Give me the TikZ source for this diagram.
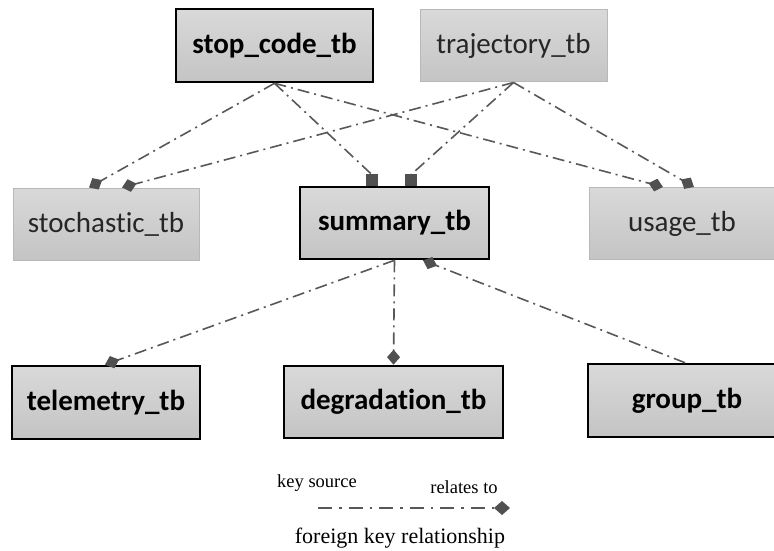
\documentclass[tikz,border=0pt]{standalone}
\usepackage{fontspec}
\setmainfont{Liberation Serif}
\newfontfamily\boxfont[RawFeature={-liga;-dlig}]{Carlito}
\usetikzlibrary{arrows.meta,calc}
\definecolor{linkc}{HTML}{585858}
\definecolor{markc}{HTML}{505050}
\definecolor{fillTop}{HTML}{D9D9D9}
\definecolor{fillBot}{HTML}{C4C4C4}
\definecolor{softedge}{HTML}{B8B8B8}
\definecolor{softtext}{HTML}{262626}

\begin{document}
\begin{tikzpicture}[x=1pt,y=-1pt,
  tbl/.style={rectangle, inner sep=0pt, top color=fillTop, bottom color=fillBot,
    minimum height=72pt},
  keytbl/.style={tbl, draw=black, line width=2.6pt,
    font=\boxfont\bfseries\fontsize{29}{32}\selectfont, text=black},
  plaintbl/.style={tbl, draw=softedge, line width=1pt,
    font=\boxfont\fontsize{29}{32}\selectfont, text=softtext},
  fk/.style={draw=linkc, line width=1.6pt,
    dash pattern=on 12pt off 5pt on 2pt off 5pt},
  fkd/.style={fk, -{Diamond[length=15pt,width=13pt,fill=markc,color=markc,sep=0pt]}},
  sqmark/.style={fill=markc},
  legendtxt/.style={font=\fontsize{18.5}{22}\selectfont, text=black},
]
\useasboundingbox (0,0) rectangle (774,551);

% tables
\node[keytbl, minimum width=197pt, minimum height=73pt] (stop) at (274.5,45.5) {stop\_code\_tb};
\node[plaintbl, minimum width=187pt] (traj) at (513.5,46) {trajectory\_tb};
\node[plaintbl, minimum width=186pt] (stoch) at (106,224) {stochastic\_tb};
\node[keytbl, minimum width=189pt] (summ) at (394.5,223) {summary\_tb};
\node[plaintbl, minimum width=186pt] (usage) at (682,223.5) {usage\_tb};
\node[keytbl, minimum width=188pt, minimum height=73pt] (telem) at (106,402.5) {telemetry\_tb};
\node[keytbl, minimum width=219pt] (degr) at (393.5,402) {degradation\_tb};
\node[keytbl, minimum width=198pt, minimum height=73pt] (group) at (687,400.5) {group\_tb};

% foreign keys from the upper tables
\draw[fkd] (stop.south) -- ([xshift=-17pt]stoch.north);
\draw[fkd] (traj.south) -- ([xshift=16pt]stoch.north);
\draw[fk] (stop.south) -- ([xshift=-22.5pt,yshift=11pt]summ.north);
\draw[fk] (traj.south) -- ([xshift=16.5pt,yshift=11pt]summ.north);
\draw[fkd] (stop.south) -- ([xshift=-19pt]usage.north);
\draw[fkd] (traj.south) -- ([xshift=12pt]usage.north);

% square markers on summary_tb
\fill[sqmark] ([xshift=-28.5pt]summ.north) rectangle ([xshift=-16.5pt,yshift=12pt]summ.north);
\fill[sqmark] ([xshift=10.5pt]summ.north) rectangle ([xshift=22.5pt,yshift=12pt]summ.north);

% foreign keys around summary_tb
\draw[fkd] (summ.south) -- ([xshift=-1pt]telem.north);
\draw[fkd] (summ.south) -- (degr.north);
\draw[fkd] ([xshift=-2pt]group.north) -- ([xshift=28.5pt]summ.south);

% legend
\node[legendtxt] (lsrc) at (317,483) {key source};
\node[legendtxt] (lrel) at (464,487) {relates to};
\coordinate (lgA) at (318,508);
\coordinate (lgB) at (510,508);
\draw[draw=linkc, line width=2.2pt, dash pattern=on 14pt off 7pt on 2.5pt off 7pt,
  -{Diamond[length=16pt,width=14pt,fill=markc,color=markc,sep=0pt]}] (lgA) -- (lgB);
\node[font=\fontsize{22}{26}\selectfont] (lcap) at (400,538) {foreign key relationship};
\end{tikzpicture}
\end{document}
